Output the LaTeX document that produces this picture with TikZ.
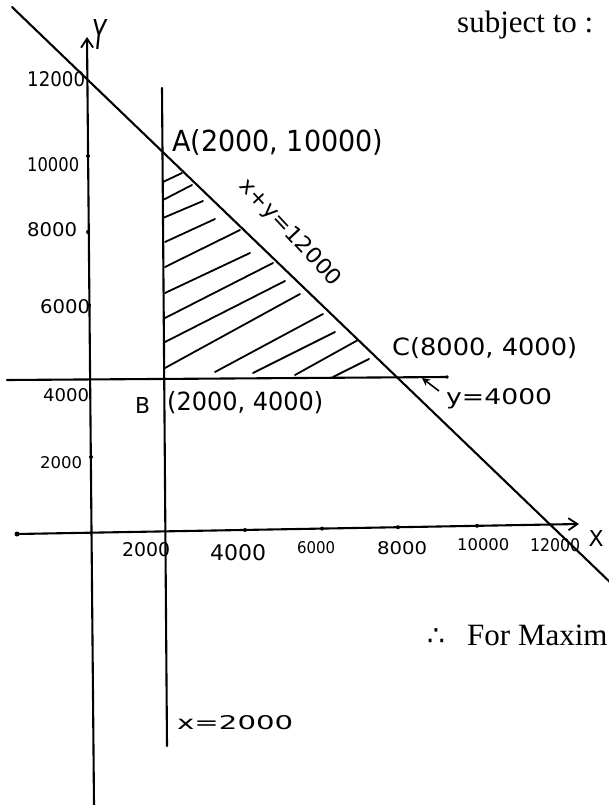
\documentclass[tikz,border=0pt]{standalone}
\usepackage{fontspec}
\setmainfont{Liberation Serif}
\newfontfamily\hwfont{DejaVu Sans}
\usetikzlibrary{arrows.meta}
\newcommand{\hw}[3]{\resizebox{#1}{#2}{\hwfont #3}}
\begin{document}
\begin{tikzpicture}[x=1pt,y=-1pt,
  ln/.style={line width=2.1pt, line cap=round},
  hatchln/.style={line width=1.8pt, line cap=round},
  lbl/.style={inner sep=0pt},
  tickdot/.style={circle, fill=black, inner sep=0pt, minimum size=4pt},
  barb/.style={-{Straight Barb[length=9pt,width=12pt,line width=1.8pt]}}]
\useasboundingbox (0,0) rectangle (609,805);
\clip (0,0) rectangle (609,805);

% axes and lines
\coordinate (ybot) at (94,805);
\coordinate (ytop) at (87,37);
\coordinate (xl) at (17,534);
\coordinate (xr) at (579,524);
\coordinate (vtop) at (162,88);
\coordinate (vbot) at (167,746);
\coordinate (hl) at (7,380);
\coordinate (hr) at (447,377);
\coordinate (dtop) at (12,7);
\coordinate (dbot) at (614,586);

\draw[ln, barb] (ybot) -- (ytop);
\draw[ln, barb] (xl) -- (xr);
\fill (xl) circle (2.5pt);
\fill (hr) circle (1.8pt);
\draw[ln] (vtop) -- (vbot);
\draw[ln] (hl) -- (hr);
\draw[ln] (dtop) -- (dbot);

% tick dots
\foreach \px/\py in {245/530,322/528.6,398/527.2,477/525.8,88/156,88/232,89/305,91/457}
  \node[tickdot] at (\px,\py) {};

% hatching
\foreach \ax/\ay/\bx/\by in {163/182/182/173,163/200/192/185,163/218/203/201,
  165/242/215/219,165/267/240/230,165/293/250/253,165/318/273/263,
  165/342/285/281,165/368/300/294,215/372/323/314,253/373/335/332,
  295/375/358/340,333/377/369/359}
  \draw[hatchln] (\ax,\ay) -- (\bx,\by);

% axis labels
\node[lbl] (ylab) at (99,34) {\resizebox{14pt}{30pt}{\hwfont\itshape Y}};
\node[lbl] (xlab) at (596,538) {\resizebox{15pt}{16pt}{\hwfont X}};

% y-axis numbers
\node[lbl, anchor=west] (y12) at (27,79) {\hw{58pt}{15pt}{12000}};
\node[lbl, anchor=west] (y10) at (27,165) {\hw{52pt}{14pt}{10000}};
\node[lbl, anchor=west] (y8) at (27,230) {\hw{50pt}{14pt}{8000}};
\node[lbl, anchor=west] (y6) at (40,307) {\hw{50pt}{14pt}{6000}};
\node[lbl, anchor=west] (y4) at (43,395) {\hw{46pt}{13pt}{4000}};
\node[lbl, anchor=west] (y2) at (40,463) {\hw{42pt}{12pt}{2000}};

% x-axis numbers
\node[lbl, anchor=west] (x2) at (122,550) {\hw{48pt}{14pt}{2000}};
\node[lbl, anchor=west] (x4) at (210,553) {\hw{56pt}{16pt}{4000}};
\node[lbl, anchor=west] (x6) at (297,548) {\hw{38pt}{12pt}{6000}};
\node[lbl, anchor=west] (x8) at (377,548) {\hw{50pt}{13pt}{8000}};
\node[lbl, anchor=west] (x10) at (457,545) {\hw{52pt}{12pt}{10000}};
\node[lbl, anchor=west] (x12) at (530,545) {\hw{50pt}{13pt}{12000}};

% point labels
\node[lbl, anchor=west] (ptA) at (172,142) {\hw{211pt}{22pt}{A(2000, 10000)}};
\node[lbl, anchor=west] (ptB) at (135,405) {\hw{15pt}{16pt}{B}};
\node[lbl, anchor=west] (ptBc) at (167,403) {\hw{156pt}{19pt}{(2000, 4000)}};
\node[lbl, anchor=west] (ptC) at (392,348) {\hw{185pt}{18pt}{C(8000, 4000)}};

% line labels
\node[lbl, rotate=-47] (diaglab) at (290,233) {\hw{138pt}{16pt}{x+y=12000}};
\node[lbl, anchor=west] (hlab) at (446,399) {\hw{106pt}{16pt}{y=4000}};
\node[lbl, anchor=west] (vlab) at (177,723) {\hw{116pt}{14pt}{x=2000}};
\coordinate (arS) at (439,391);
\coordinate (arE) at (422,378);
\draw[line width=1.6pt, -{Stealth[length=8pt,width=8pt]}] (arS) -- (arE);

% printed text
\node[lbl, anchor=base west, font=\fontsize{31}{36}\selectfont] (subj) at (457,33) {subject to :};
\node[lbl, font=\fontsize{28}{30}\selectfont\hwfont] (therefore) at (436,637) {∴};
\node[lbl, anchor=base west, font=\fontsize{31}{36}\selectfont] (maxim) at (467,645) {For Maxim};
\end{tikzpicture}
\end{document}
